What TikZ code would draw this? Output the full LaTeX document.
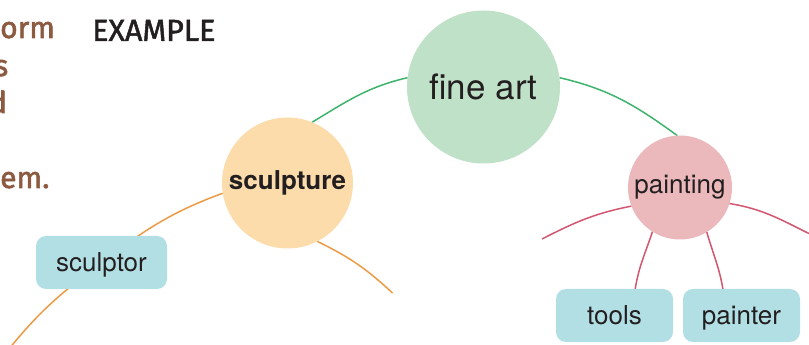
\documentclass[tikz,border=0pt]{standalone}
\usepackage{fontspec}
\setmainfont{TeX Gyre Heros}
\newfontfamily\exfont{Fira Sans}[FakeBold=1.6]
\newfontfamily\brownfont{Fira Sans}[FakeBold=2]
\pgfdeclarelayer{background}
\pgfsetlayers{background,main}
\definecolor{greenfill}{HTML}{BFE1C8}
\definecolor{orangefill}{HTML}{FDDCAB}
\definecolor{pinkfill}{HTML}{EBB8BB}
\definecolor{boxfill}{HTML}{B2DFE4}
\definecolor{greenline}{HTML}{3DB36B}
\definecolor{orangeline}{HTML}{EC9A45}
\definecolor{pinkline}{HTML}{D2566F}
\definecolor{textdark}{HTML}{231F20}
\definecolor{browntext}{HTML}{8C5A40}
\tikzset{
  bubble/.style={circle, inner sep=0pt, outer sep=0pt, text=textdark},
  leafbox/.style={rectangle, rounded corners=10pt, fill=boxfill, inner sep=0pt, outer sep=0pt,
    minimum height=53pt, text height=20pt, text depth=1pt, text=textdark, font=\fontsize{26}{30}\selectfont},
  link/.style={line width=1.5pt},
  brownline/.style={anchor=base west, text=browntext, inner sep=0pt, font=\brownfont\fontsize{30}{34}\selectfont}
}
\begin{document}
\begin{tikzpicture}[x=1pt,y=1pt]
\useasboundingbox (0,0) rectangle (809,345);
\clip (0,0) rectangle (809,345);
% left column fragments
\node[brownline] (t1) at (0,307) {orm};
\node[brownline] (t2) at (-6,269) {s};
\node[brownline] (t3) at (-11,232) {d};
\node[brownline] (t4) at (0,157) {em.};
\node[anchor=base west, inner sep=0pt, text=textdark, font=\exfont\fontsize{30.5}{34}\selectfont] (ex) at (92,304) {EXAMPLE};
% bubbles
\node[bubble, fill=greenfill, minimum size=153pt, font=\fontsize{35}{40}\selectfont] (fineart) at (483.5,258) {fine art};
\node[bubble, fill=orangefill, minimum size=131pt, font=\bfseries\fontsize{26}{30}\selectfont] (sculpture) at (287.5,162) {sculpture};
\node[bubble, fill=pinkfill, minimum size=104pt, font=\fontsize{26}{30}\selectfont] (painting) at (680,157.5) {painting};
% boxes
\node[leafbox, minimum width=131pt] (sculptor) at (101.5,82.5) {sculptor};
\node[leafbox, minimum width=117pt] (tools) at (614.5,29.5) {tools};
\node[leafbox, minimum width=117pt] (painter) at (741.5,29.5) {painter};
% free ends
\coordinate (e1) at (9,-4);
\coordinate (e2) at (392.5,52);
\coordinate (e3) at (542,106);
\coordinate (e4) at (812,110);
\begin{pgfonlayer}{background}
\draw[link, greenline] (sculpture.68) to[out=31,in=193] (fineart.173);
\draw[link, greenline] (fineart.7) to[out=-13,in=144] (painting.93);
\draw[link, orangeline] (sculpture.189) to[out=200,in=37] (sculptor.center) to[out=217,in=51] (e1);
\draw[link, orangeline] (sculpture.-63) to[out=-26,in=137] (e2);
\draw[link, pinkline] (painting.201) to[out=191,in=27] (e3);
\draw[link, pinkline] (painting.-18) to[out=-9,in=154] (e4);
\draw[link, pinkline] (painting.238) to[out=252,in=81] (tools.52);
\draw[link, pinkline] (painting.301) to[out=-74,in=100] (painter.125);
\end{pgfonlayer}
\end{tikzpicture}
\end{document}
